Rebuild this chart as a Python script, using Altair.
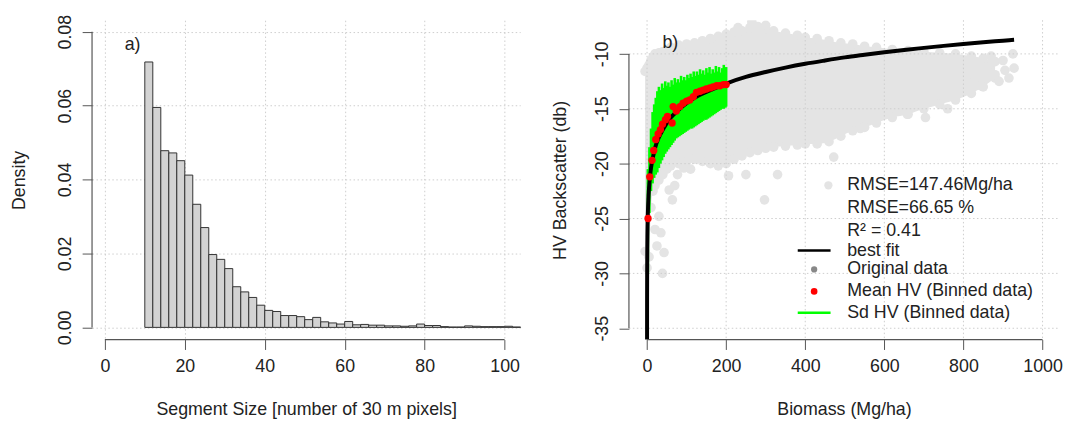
import altair as alt
import pandas as pd

FONT = "Liberation Sans"
TXT = "#222222"
AX = "#555555"
GRID = "#cdcdcd"

# ---------------- panel a) histogram ----------------
bin_start = [10, 12, 14, 16, 18, 20, 22, 24, 26, 28, 30, 32, 34, 36, 38, 40, 42, 44, 46, 48,
             50, 52, 54, 56, 58, 60, 62, 64, 66, 68, 70, 72, 74, 76, 78, 80, 82, 84, 86, 88,
             90, 92, 94, 96, 98, 100, 102]
density = [0.0718, 0.0595, 0.0478, 0.0472, 0.0451, 0.0412, 0.0333, 0.0270, 0.0197, 0.0184,
           0.0159, 0.0110, 0.0096, 0.0081, 0.0060, 0.0046, 0.0043, 0.0032, 0.0032, 0.0029,
           0.0021, 0.0027, 0.0015, 0.0012, 0.0009, 0.0016, 0.0007, 0.0008, 0.0006, 0.0006,
           0.0004, 0.0004, 0.0003, 0.0004, 0.0009, 0.0005, 0.0005, 0.0002, 0.0001, 0.0001,
           0.0004, 0.0003, 0.0002, 0.0002, 0.0002, 0.0003, 0.0001]
bin_width = 2
x1_ticks = [0, 20, 40, 60, 80, 100]
y1_ticks = [0.0, 0.02, 0.04, 0.06, 0.08]

# ---------------- panel b) scatter ----------------
# dense cloud of original data (upper / lower envelope)
cloud_x = [-5, 0, 5, 10, 15, 20, 30, 40, 50, 60, 80, 100, 120, 140, 160, 180, 200, 220, 240,
           260, 280, 300, 320, 350, 380, 400, 430, 460, 490, 520, 550, 580, 620, 660, 700,
           740, 780, 820, 850, 880]
cloud_up = [-11.6, -11.3, -11.0, -10.6, -10.3, -10.0, -9.9, -9.8, -9.6, -9.4, -9.2, -9.1,
            -9.0, -8.8, -8.6, -8.4, -8.2, -8.0, -7.9, -7.6, -7.5, -7.7, -7.9, -8.1, -8.3,
            -8.5, -8.6, -8.8, -9.0, -9.1, -9.3, -9.4, -9.6, -9.7, -9.8, -9.9, -10.0, -10.2,
            -10.4, -10.7]
cloud_lo = [-28.0, -29.5, -28.5, -24.0, -22.5, -22.0, -21.5, -21.0, -20.5, -20.2, -20.0,
            -19.8, -19.6, -19.8, -20.0, -20.2, -20.0, -19.6, -19.3, -19.0, -18.8, -18.6,
            -18.5, -18.4, -18.3, -18.2, -18.2, -18.0, -17.5, -17.0, -16.7, -16.3, -15.8,
            -15.5, -15.0, -14.6, -14.2, -13.6, -13.0, -12.2]
# scattered original data points
pts_x = [25, 35, 43, 39, 30, 20, 56, 64, 70, 77, 93, 110, 206, 250, 297, 330, 265, 230, 300,
         472, 539, 575, 658, 704, 827, 860, 880, 900, 925, 928, 915, 870, 845, 760, 890, 905]
pts_y = [-27.5, -26.3, -28.1, -30.0, -24.8, -26.0, -22.4, -23.3, -22.0, -21.0, -20.4, -20.5,
         -21.1, -21.0, -23.3, -21.0, -7.1, -7.6, -7.4, -19.4, -16.8, -15.8, -15.5, -15.8,
         -12.6, -11.2, -11.9, -10.6, -10.0, -11.3, -12.2, -10.2, -12.9, -15.0, -12.5, -11.5]

# binned mean HV
mean_x = [2.5, 6.8, 12.7, 16.9, 22, 28, 33.8, 38.9, 46.5, 51.6, 63.4, 66, 74, 83, 91, 100,
          108, 117, 125, 134, 142, 150, 159, 167, 176, 184, 193, 200]
mean_y = [-25.0, -21.2, -19.7, -18.8, -17.8, -17.3, -16.9, -16.4, -16.0, -15.7, -16.3, -14.8,
          -15.2, -14.8, -14.5, -14.3, -14.2, -13.9, -13.5, -13.4, -13.3, -13.2, -13.1, -13.0,
          -12.9, -12.9, -12.8, -12.8]

# binned sd HV (mean - sd, mean + sd)
sd_x = [2, 6, 10, 14, 18, 22, 26, 30, 34, 38, 42, 46, 50, 54, 58, 62, 66, 70, 74, 78, 82, 86,
        90, 94, 98, 102, 106, 110, 114, 118, 122, 126, 130, 134, 138, 142, 146, 150, 154, 158,
        162, 166, 170, 174, 178, 182, 186, 190, 194, 198, 200]
sd_hi = [-20.5, -18.5, -16.8, -15.3, -14.6, -14.0, -13.4, -13.0, -13.3, -12.7, -13.1, -12.5,
         -12.9, -12.6, -13.0, -12.4, -12.8, -12.2, -12.6, -12.3, -12.6, -12.0, -12.4, -12.1,
         -12.4, -11.9, -12.2, -11.8, -12.1, -11.6, -12.0, -11.6, -11.9, -11.4, -11.8, -11.5,
         -11.9, -11.3, -11.7, -11.2, -11.8, -11.4, -11.7, -11.1, -11.6, -11.2, -11.7, -11.3,
         -11.0, -11.4, -11.2]
sd_lo = [-30.0, -24.5, -22.5, -21.8, -21.3, -21.0, -20.8, -20.4, -20.0, -19.7, -19.4, -19.1,
         -18.9, -18.7, -18.5, -18.3, -18.1, -17.9, -17.7, -17.6, -17.5, -17.4, -17.3, -17.2,
         -17.1, -17.0, -16.9, -16.8, -16.8, -16.7, -16.6, -16.5, -16.4, -16.3, -16.2, -16.1,
         -16.0, -16.0, -15.9, -15.8, -15.7, -15.6, -15.5, -15.4, -15.3, -15.2, -15.1, -15.0,
         -15.0, -14.9, -14.8]

# best fit curve
fit_x = [0.02, 0.1, 0.3, 0.6, 1, 2, 4, 7, 10, 15, 20, 30, 40, 60, 80, 100, 130, 160, 200,
         250, 300, 350, 400, 450, 500, 550, 600, 650, 700, 750, 800, 850, 900, 928]
fit_y = [-36.5, -32.3, -29.5, -27.7, -26.4, -24.6, -22.8, -21.4, -20.4, -19.4, -18.6, -17.6,
         -16.9, -15.8, -15.1, -14.5, -13.8, -13.3, -12.7, -12.1, -11.65, -11.25, -10.9,
         -10.6, -10.32, -10.08, -9.85, -9.64, -9.45, -9.27, -9.1, -8.94, -8.8, -8.72]

x2_ticks = [0, 200, 400, 600, 800, 1000]
y2_ticks = [-35, -30, -25, -20, -15, -10]

legend_labels = ["RMSE=147.46Mg/ha", "RMSE=66.65 %", "R\u00b2 = 0.41", "best fit",
                 "Original data", "Mean HV (Binned data)", "Sd HV (Binned data)"]

# ---------------- layout constants ----------------
W1, W2, H = 433, 435, 323

# ================= panel a =================
hist = pd.DataFrame({"x0": bin_start, "x1": [b + bin_width for b in bin_start], "d": density})
xs1 = alt.Scale(domain=[-3.2, 103.9], nice=False, zero=False)
ys1 = alt.Scale(domain=[-0.0033, 0.0831], nice=False, zero=False)

common_axis = dict(domain=False, tickColor=AX, tickWidth=1, labelFont=FONT, labelFontSize=18,
                   labelColor=TXT, titleFont=FONT, titleFontSize=18, titleFontWeight="normal",
                   titleColor=TXT, labelFlush=False, labelOverlap=False,
                   gridColor=GRID, gridDash=[1.5, 2.5], gridWidth=1)

xax1 = alt.Axis(values=x1_ticks, title="Segment Size [number of 30 m pixels]", grid=True,
                tickSize=10, labelPadding=8, labelExpr="toString(datum.value)",
                titleX=W1 / 2, titleY=76, titleAlign="center", titleBaseline="alphabetic",
                **common_axis)
yax1 = alt.Axis(values=y1_ticks, title="Density", grid=True, tickSize=10, labelPadding=12,
                labelAngle=270, labelAlign="center", labelBaseline="alphabetic",
                labelExpr="format(datum.value, '.2f')",
                titleAngle=270, titleX=-68, titleY=H / 2, titleAlign="center",
                titleBaseline="alphabetic", **common_axis)

bars = alt.Chart(hist).mark_bar(fill="#d3d3d3", stroke="#333333", strokeWidth=1).encode(
    x=alt.X("x0:Q", scale=xs1, axis=xax1),
    x2="x1:Q",
    y=alt.Y("d:Q", scale=ys1, axis=yax1),
    y2=alt.datum(0),
)
xline1 = alt.Chart(pd.DataFrame({"a": [x1_ticks[0]], "b": [x1_ticks[-1]]})).mark_rule(
    color=AX, strokeWidth=1.2).encode(
    x=alt.X("a:Q", scale=xs1, axis=xax1), x2="b:Q", y=alt.value(H))
yline1 = alt.Chart(pd.DataFrame({"a": [y1_ticks[0]], "b": [y1_ticks[-1]]})).mark_rule(
    color=AX, strokeWidth=1.2).encode(
    y=alt.Y("a:Q", scale=ys1, axis=yax1), y2="b:Q", x=alt.value(0))
lab_a = alt.Chart(pd.DataFrame({"x": [6.95], "y": [0.0764], "t": ["a)"]})).mark_text(
    font=FONT, fontSize=18, color=TXT, align="center", baseline="middle").encode(
    x=alt.X("x:Q", scale=xs1, axis=xax1), y=alt.Y("y:Q", scale=ys1, axis=yax1), text="t:N")

panel_a = alt.layer(bars, xline1, yline1, lab_a).properties(width=W1, height=H)

# ================= panel b =================
xs2 = alt.Scale(domain=[-45.8, -45.8 + W2 / 0.4], nice=False, zero=False)
ys2 = alt.Scale(domain=[-36.03, -36.03 + H / 11.1], nice=False, zero=False)

xax2 = alt.Axis(values=x2_ticks, title="Biomass (Mg/ha)", grid=False, tickSize=10,
                labelPadding=8, labelExpr="toString(datum.value)",
                titleX=W2 / 2, titleY=76, titleAlign="center", titleBaseline="alphabetic",
                **common_axis)
yax2 = alt.Axis(values=y2_ticks, title="HV Backscatter (db)", grid=False, tickSize=10,
                labelPadding=12, labelAngle=270, labelAlign="center",
                labelBaseline="alphabetic", labelExpr="toString(datum.value)",
                titleAngle=270, titleX=-64, titleY=H / 2, titleAlign="center",
                titleBaseline="alphabetic", **common_axis)

def X2(f):
    return alt.X(f, scale=xs2, axis=xax2)

def Y2(f):
    return alt.Y(f, scale=ys2, axis=yax2)

cloud_df = pd.DataFrame({"x": cloud_x, "u": cloud_up, "l": cloud_lo})
edge_df = pd.DataFrame({"x": cloud_x + cloud_x + pts_x, "y": cloud_up + cloud_lo + pts_y})
GREY = "#e4e4e4"

cloud = alt.Chart(cloud_df).mark_area(color=GREY, clip=True, interpolate="monotone").encode(
    x=X2("x:Q"), y=Y2("u:Q"), y2="l:Q")
edge = alt.Chart(edge_df).mark_circle(color=GREY, opacity=1, size=95, clip=True).encode(
    x=X2("x:Q"), y=Y2("y:Q"))

vgrid = alt.Chart(pd.DataFrame({"v": x2_ticks})).mark_rule(
    color=GRID, strokeDash=[1.5, 2.5], strokeWidth=1).encode(
    x=X2("v:Q"), y=alt.value(0), y2=alt.value(H))
hgrid = alt.Chart(pd.DataFrame({"v": y2_ticks})).mark_rule(
    color=GRID, strokeDash=[1.5, 2.5], strokeWidth=1).encode(
    y=Y2("v:Q"), x=alt.value(0), x2=alt.value(W2))

sd = alt.Chart(pd.DataFrame({"x": sd_x, "hi": sd_hi, "lo": sd_lo})).mark_rule(
    color="#00ff00", strokeWidth=2.6).encode(x=X2("x:Q"), y=Y2("hi:Q"), y2="lo:Q")
fit = alt.Chart(pd.DataFrame({"x": fit_x, "y": fit_y})).mark_line(
    color="black", strokeWidth=4, clip=True, interpolate="monotone").encode(
    x=X2("x:Q"), y=Y2("y:Q"))
means = alt.Chart(pd.DataFrame({"x": mean_x, "y": mean_y})).mark_circle(
    color="#ff0000", opacity=1, size=55).encode(x=X2("x:Q"), y=Y2("y:Q"))

xline2 = alt.Chart(pd.DataFrame({"a": [x2_ticks[0]], "b": [x2_ticks[-1]]})).mark_rule(
    color=AX, strokeWidth=1.2).encode(x=X2("a:Q"), x2="b:Q", y=alt.value(H))
yline2 = alt.Chart(pd.DataFrame({"a": [y2_ticks[0]], "b": [y2_ticks[-1]]})).mark_rule(
    color=AX, strokeWidth=1.2).encode(y=Y2("a:Q"), y2="b:Q", x=alt.value(0))

lab_b = alt.Chart(pd.DataFrame({"x": [59], "y": [-9.05], "t": ["b)"]})).mark_text(
    font=FONT, fontSize=18, color=TXT, align="center", baseline="middle").encode(
    x=X2("x:Q"), y=Y2("y:Q"), text="t:N")

# legend (positions in data units of panel b)
leg_text_x = 506
leg_rows_y = [-21.97, -24.07, -26.18, -27.92, -29.64, -31.64, -33.59]
leg_txt = alt.Chart(pd.DataFrame({"x": [leg_text_x] * 7, "y": leg_rows_y,
                                  "t": legend_labels})).mark_text(
    font=FONT, fontSize=18, color=TXT, align="left", baseline="middle").encode(
    x=X2("x:Q"), y=Y2("y:Q"), text="t:N")
leg_lines = alt.Chart(pd.DataFrame({"a": [381, 381], "b": [464, 464],
                                    "y": [leg_rows_y[3], leg_rows_y[6]],
                                    "c": ["black", "#00ff00"]})).mark_rule(
    strokeWidth=2.6).encode(x=X2("a:Q"), x2="b:Q", y=Y2("y:Q"),
                            color=alt.Color("c:N", scale=None))
leg_dots = alt.Chart(pd.DataFrame({"x": [458.5, 422.5, 422.5],
                                   "y": [leg_rows_y[0], leg_rows_y[4], leg_rows_y[5]],
                                   "c": [GREY, "#888888", "#ff0000"],
                                   "s": [70, 40, 45]})).mark_circle(opacity=1).encode(
    x=X2("x:Q"), y=Y2("y:Q"), color=alt.Color("c:N", scale=None),
    size=alt.Size("s:Q", scale=None))

panel_b = alt.layer(cloud, edge, vgrid, hgrid, sd, fit, means, xline2, yline2, lab_b,
                    leg_txt, leg_lines, leg_dots).properties(width=W2, height=H)

chart = alt.hconcat(panel_a, panel_b, spacing=110, bounds="flush").properties(
    padding={"left": 3, "top": 4, "right": 0, "bottom": 0},
    background="white",
).configure_view(stroke=None)

chart.save("out.html", embed_options={"renderer": "svg", "actions": False})
